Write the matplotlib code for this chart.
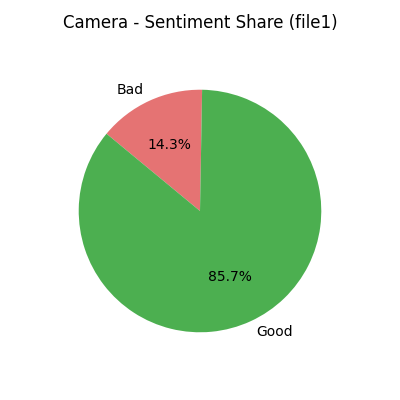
import matplotlib
matplotlib.use("Agg")
import matplotlib.pyplot as plt

labels = ["Bad", "Good"]
counts = [1, 6]
colors = ["#e57373", "#4caf50"]

fig = plt.figure(figsize=(4, 4), dpi=100)
w = 0.758
ax = fig.add_axes([0.5 - w / 2, 0.4725 - w / 2, w, w])
ax.pie(counts, labels=labels, colors=colors, autopct="%1.1f%%", startangle=89)
ax.set_aspect("equal")
fig.suptitle("Camera - Sentiment Share (file1)", y=0.965, fontsize=12)
plt.savefig("out.png")
